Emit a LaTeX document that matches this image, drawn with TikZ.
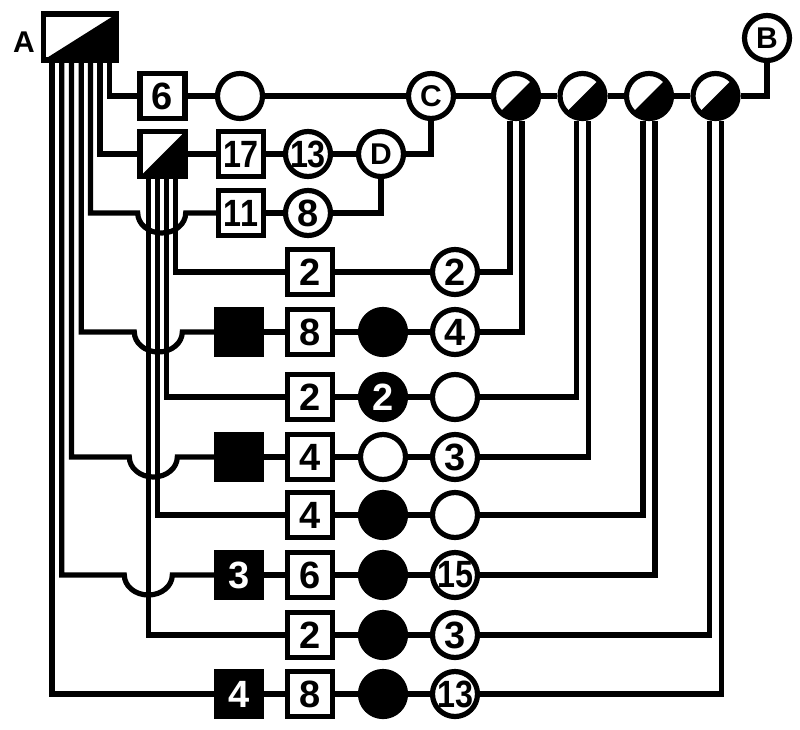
\documentclass[tikz,border=0pt]{standalone}
\usepackage{fontspec}
\usepackage{graphicx}
\setmainfont{Liberation Sans}
\newcommand\digfont{\fontsize{38}{38}\selectfont\bfseries}
\newcommand\ltrfont{\fontsize{30}{30}\selectfont\bfseries}
\newcommand\nn[1]{\scalebox{0.85}[1]{#1}}
\tikzset{
  wire/.style={line width=5.2pt},
  nbox/.style={draw, line width=5.2pt, rectangle, fill=white, minimum width=45pt, minimum height=45pt, inner sep=0pt, font=\digfont},
  bbox/.style={nbox, fill=black, text=white},
  ncirc/.style={draw, line width=5.2pt, circle, fill=white, minimum size=45pt, inner sep=0pt, font=\digfont},
  bcirc/.style={ncirc, fill=black, text=white},
  split/.style={path picture={\fill[black] (path picture bounding box.south west) -- (path picture bounding box.north east) -- (path picture bounding box.south east) -- cycle;}},
  hop/.style={start angle=180, end angle=360, x radius=24pt, y radius=20pt},
}
\begin{document}
\begin{tikzpicture}[x=1pt,y=1pt]
\fill[white] (0,0) rectangle (800,-729);
\useasboundingbox (0,0) rectangle (800,-729);
% top nodes
\node[nbox, split, minimum width=73pt, minimum height=46pt] (A) at (80,-37) {};
\node[font=\ltrfont] (labA) at (24,-42) {A};
\node[ncirc, font=\ltrfont] (B) at (767,-38) {B};
% row 1
\node[nbox] (r1b) at (162.5,-96) {6};
\node[ncirc] (r1c) at (240,-96) {};
\node[ncirc, font=\ltrfont] (C) at (431,-96) {C};
\node[ncirc, split] (s1) at (516,-96) {};
\node[ncirc, split] (s2) at (582.5,-96) {};
\node[ncirc, split] (s3) at (649,-96) {};
\node[ncirc, split] (s4) at (715.5,-96) {};
% row 2
\node[nbox, split] (E) at (162.5,-154) {};
\node[nbox] (r2b) at (241,-154) {\nn{17}};
\node[ncirc] (r2c) at (308,-154) {\nn{13}};
\node[ncirc, font=\ltrfont] (D) at (381,-154) {D};
% row 3
\node[nbox] (r3b) at (241,-213) {\nn{11}};
\node[ncirc] (r3c) at (308,-213) {8};
% row 4
\node[nbox] (r4b) at (310,-272) {2};
\node[ncirc] (r4d) at (455,-272) {2};
% row 5
\node[bbox] (r5a) at (239,-332) {};
\node[nbox] (r5b) at (310,-332) {8};
\node[bcirc] (r5c) at (383,-332) {};
\node[ncirc] (r5d) at (455,-332) {4};
% row 6
\node[nbox] (r6b) at (310,-397) {2};
\node[bcirc] (r6c) at (383,-397) {2};
\node[ncirc] (r6d) at (455,-397) {};
% row 7
\node[bbox] (r7a) at (239,-457) {};
\node[nbox] (r7b) at (310,-457) {4};
\node[ncirc] (r7c) at (383,-457) {};
\node[ncirc] (r7d) at (455,-457) {3};
% row 8
\node[nbox] (r8b) at (310,-515) {4};
\node[bcirc] (r8c) at (383,-515) {};
\node[ncirc] (r8d) at (455,-515) {};
% row 9
\node[bbox] (r9a) at (239,-575) {3};
\node[nbox] (r9b) at (310,-575) {6};
\node[bcirc] (r9c) at (383,-575) {};
\node[ncirc] (r9d) at (455,-575) {\nn{15}};
% row 10
\node[nbox] (r10b) at (310,-635) {2};
\node[bcirc] (r10c) at (383,-635) {};
\node[ncirc] (r10d) at (455,-635) {3};
% row 11
\node[bbox] (r11a) at (239,-694) {4};
\node[nbox] (r11b) at (310,-694) {8};
\node[bcirc] (r11c) at (383,-694) {};
\node[ncirc] (r11d) at (455,-694) {\nn{13}};
% hop start points
\coordinate (h3) at (137.7,-213);
\coordinate (h5) at (134.3,-332);
\coordinate (h7) at (129.3,-457);
\coordinate (h9) at (124.3,-575);
% row 1
\draw[wire] ([xshift=29.2pt]A.south) |- (r1b.west);
\draw[wire] (r1b) -- (r1c) -- (C) -- (s1) -- (s2) -- (s3) -- (s4);
\draw[wire] (s4.east) -| (B.south);
% row 2
\draw[wire] ([xshift=20pt]A.south) |- (E.west);
\draw[wire] (E) -- (r2b) -- (r2c) -- (D);
\draw[wire] (D.east) -| (C.south);
% row 3
\draw[wire] ([xshift=10.5pt]A.south) |- (h3) arc[hop] -- (r3b.west);
\draw[wire] (r3b) -- (r3c);
\draw[wire] (r3c.east) -| (D.south);
% row 4
\draw[wire] ([xshift=13pt]E.south) |- (r4b.west);
\draw[wire] (r4b) -- (r4d);
\draw[wire] (r4d.east) -| ([xshift=-6pt]s1.south);
% row 5
\draw[wire] ([xshift=1.2pt]A.south) |- (h5) arc[hop] -- (r5a.west);
\draw[wire] (r5a) -- (r5b) -- (r5c) -- (r5d);
\draw[wire] (r5d.east) -| ([xshift=6pt]s1.south);
% row 6
\draw[wire] ([xshift=4pt]E.south) |- (r6b.west);
\draw[wire] (r6b) -- (r6c) -- (r6d);
\draw[wire] (r6d.east) -| ([xshift=-6pt]s2.south);
% row 7
\draw[wire] ([xshift=-8.5pt]A.south) |- (h7) arc[hop] -- (r7a.west);
\draw[wire] (r7a) -- (r7b) -- (r7c) -- (r7d);
\draw[wire] (r7d.east) -| ([xshift=6pt]s2.south);
% row 8
\draw[wire] ([xshift=-5pt]E.south) |- (r8b.west);
\draw[wire] (r8b) -- (r8c) -- (r8d);
\draw[wire] (r8d.east) -| ([xshift=-6pt]s3.south);
% row 9
\draw[wire] ([xshift=-18.3pt]A.south) |- (h9) arc[hop] -- (r9a.west);
\draw[wire] (r9a) -- (r9b) -- (r9c) -- (r9d);
\draw[wire] (r9d.east) -| ([xshift=6pt]s3.south);
% row 10
\draw[wire] ([xshift=-14pt]E.south) |- (r10b.west);
\draw[wire] (r10b) -- (r10c) -- (r10d);
\draw[wire] (r10d.east) -| ([xshift=-6pt]s4.south);
% row 11
\draw[wire] ([xshift=-28pt]A.south) |- (r11a.west);
\draw[wire] (r11a) -- (r11b) -- (r11c) -- (r11d);
\draw[wire] (r11d.east) -| ([xshift=6pt]s4.south);
\end{tikzpicture}
\end{document}
